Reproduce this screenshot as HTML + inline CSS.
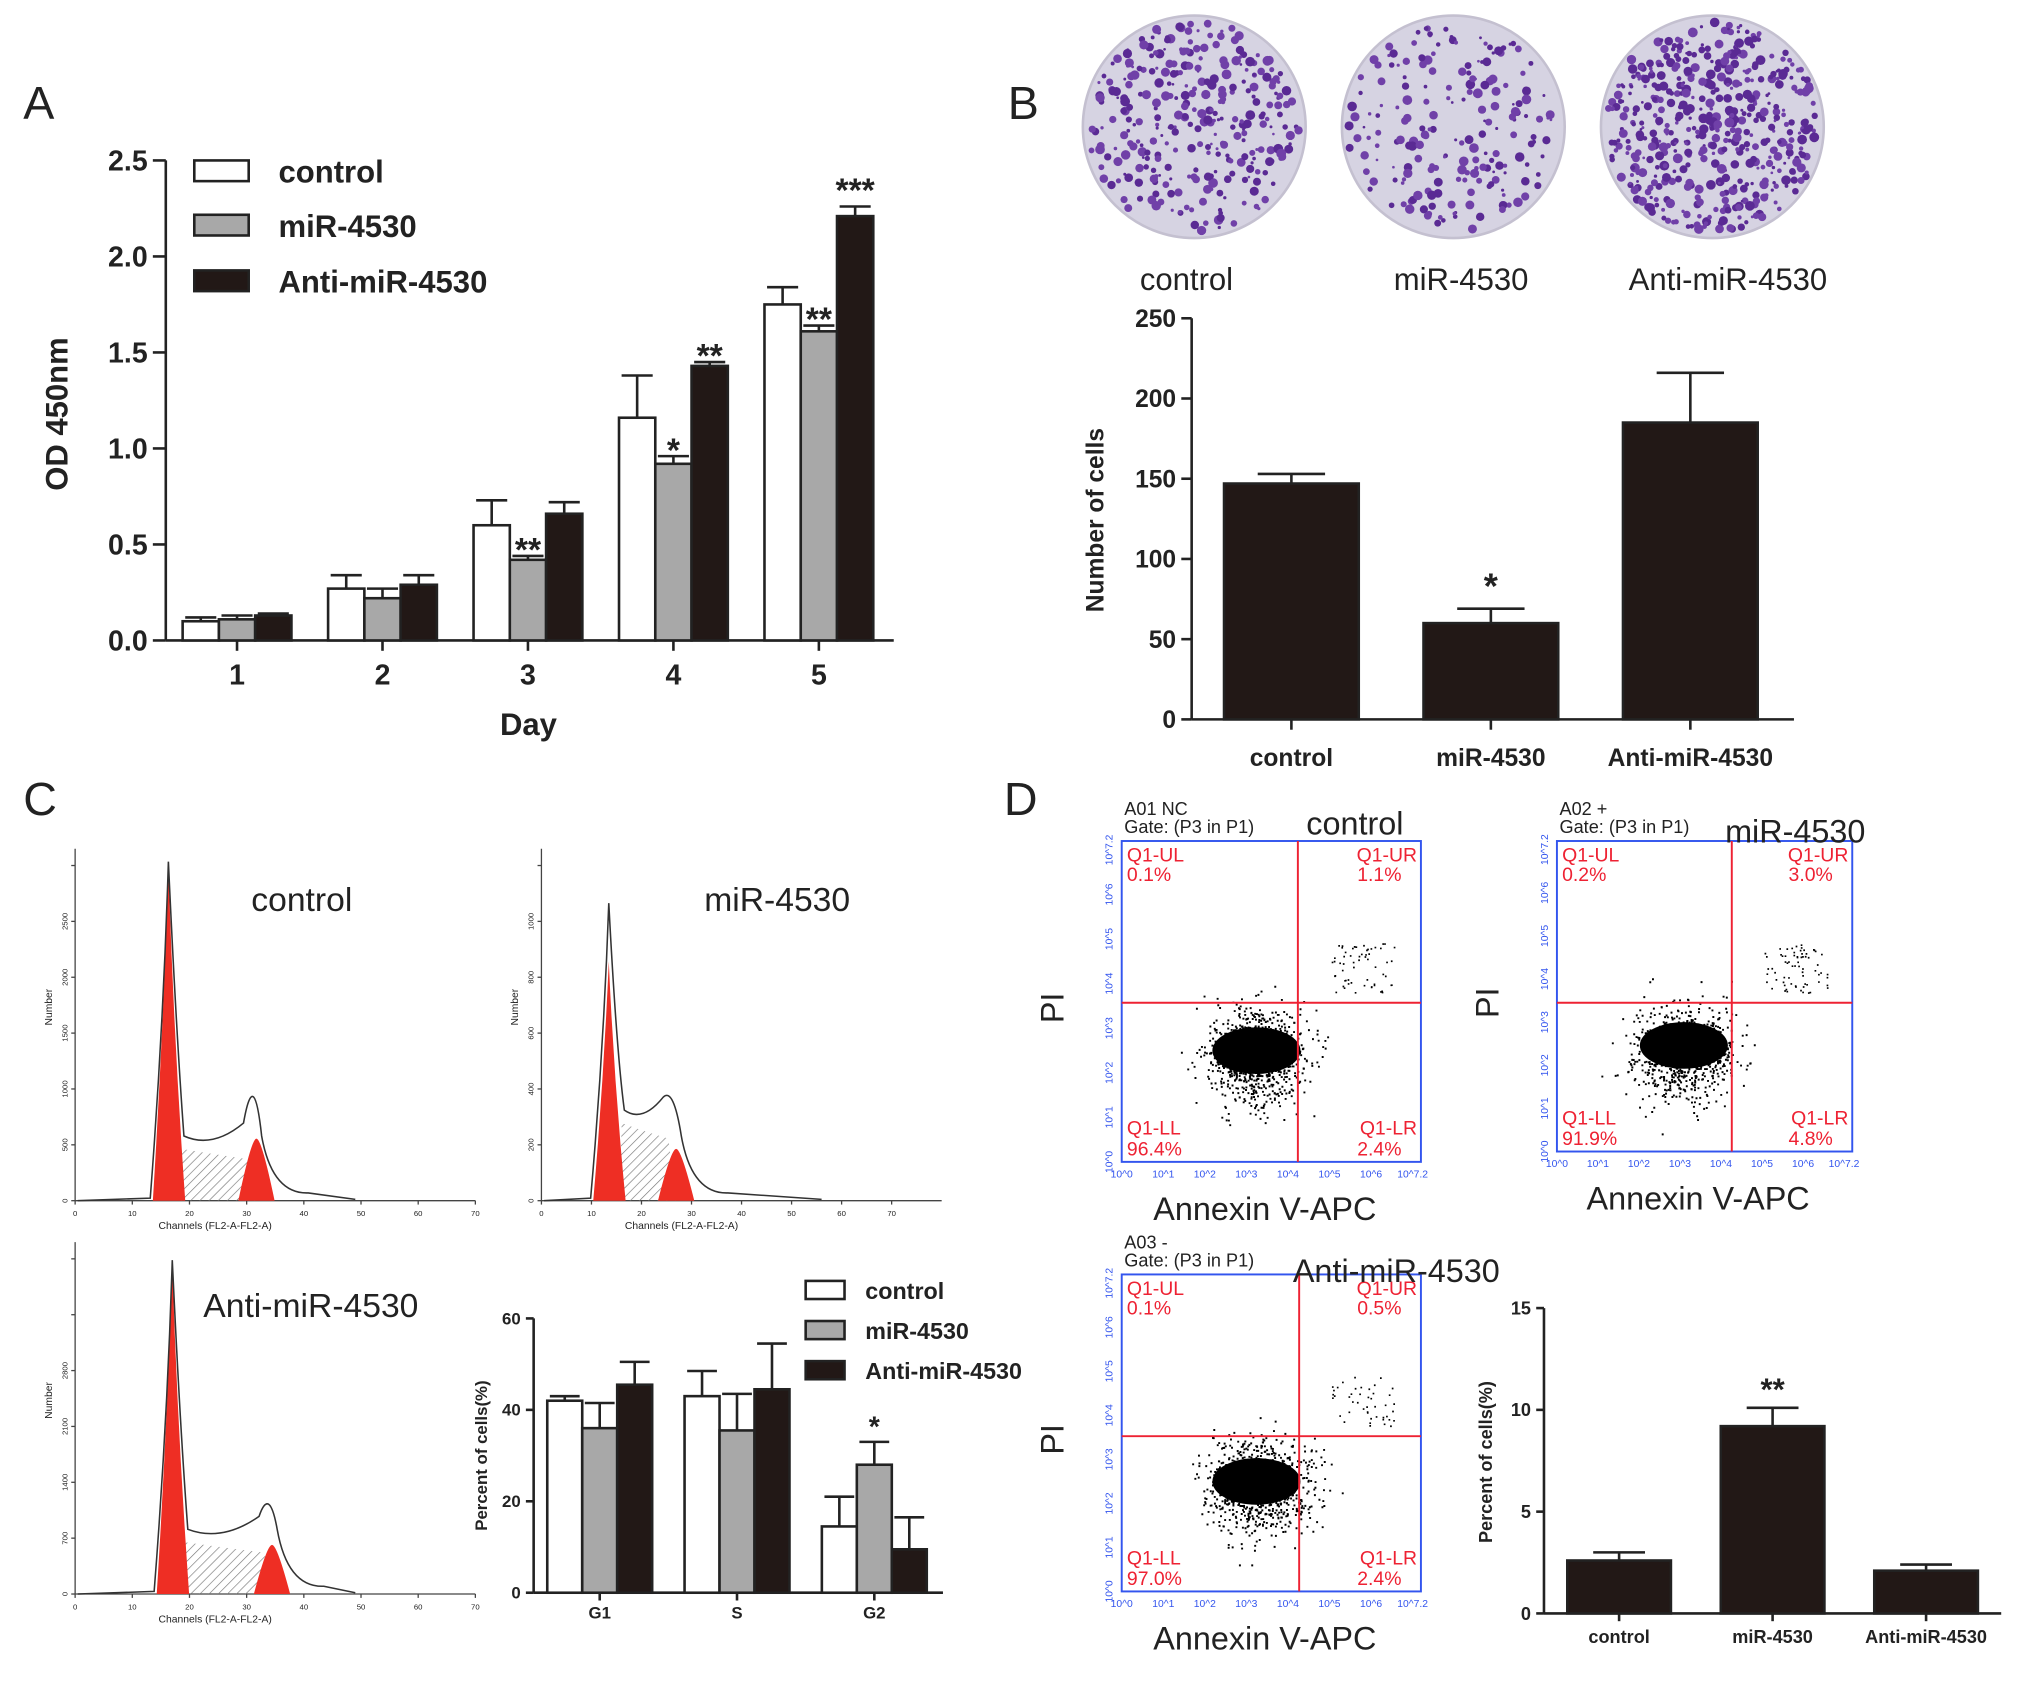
<!DOCTYPE html>
<html><head><meta charset="utf-8"><style>
html,body{margin:0;padding:0;background:#fff}
svg{display:block;font-family:"Liberation Sans",Arial,sans-serif}
</style></head><body>
<svg id="fig" width="2031" height="1682" viewBox="0 0 1568 1300" preserveAspectRatio="none" xmlns="http://www.w3.org/2000/svg">
<defs>
<pattern id="hatch" width="5" height="5" patternUnits="userSpaceOnUse" patternTransform="rotate(45)"><line x1="0" y1="0" x2="0" y2="5" stroke="#777" stroke-width="1"/></pattern>
</defs>
<rect width="1568" height="1300" fill="#fff"/>
<g id="root"></g>
</svg>
<script>
// ---- Panel A data ----
const aDays = ['1','2','3','4','5'];
const aControl = [0.10,0.27,0.60,1.16,1.75];
const aMiR = [0.11,0.22,0.42,0.92,1.61];
const aAnti = [0.13,0.29,0.66,1.43,2.21];
const aControlErr = [0.02,0.07,0.13,0.22,0.09];
const aMiRErr = [0.02,0.05,0.02,0.04,0.03];
const aAntiErr = [0.01,0.05,0.06,0.02,0.05];
const aTicks = ['0.0','0.5','1.0','1.5','2.0','2.5'];
// ---- Panel B data ----
const bCats = ['control','miR-4530','Anti-miR-4530'];
const bVals = [147,60,185];
const bErr = [6,9,31];
const bTicks = ['0','50','100','150','200','250'];
// ---- Panel C bar data ----
const cPhases = ['G1','S','G2'];
const cControl = [42,43,14.5];
const cMiR = [36,35.5,28];
const cAnti = [45.5,44.5,9.5];
const cControlErr = [1,5.5,6.5];
const cMiRErr = [5.5,8,5];
const cAntiErr = [5,10,7];
const cTicks = ['0','20','40','60'];
// ---- Panel D bar data ----
const dCats = ['control','miR-4530','Anti-miR-4530'];
const dVals = [2.6,9.2,2.1];
const dErr = [0.4,0.9,0.3];
const dTicks = ['0','5','10','15'];

const NS='http://www.w3.org/2000/svg';
const root=document.getElementById('root');
function el(tag,attrs,parent,txt){const e=document.createElementNS(NS,tag);for(const k in attrs)e.setAttribute(k,attrs[k]);if(txt!==undefined)e.textContent=txt;(parent||root).appendChild(e);return e;}
function grp(name,parent){const g=el('g',{},parent);


return g;}
function txt(parent,x,y,s,size,opts){opts=opts||{};const t=el('text',{x:x,y:y,'font-size':size,'text-anchor':opts.anchor||'start','font-weight':opts.bold?'bold':'normal',fill:opts.fill||'#222'},parent,s);if(opts.rot)t.setAttribute('transform','rotate(-90 '+x+' '+y+')');


return t;}
let seed=7;function rnd(){seed=(seed*16807)%2147483647;return seed/2147483647;}
function gauss(){return (rnd()+rnd()+rnd()+rnd()-2)/2;}

[['A',18,92],['B',778,92],['C',18,630],['D',775,630]].forEach(p=>txt(root,p[1],p[2],p[0],36,{name:'panel-letter-'+p[0].toLowerCase()}));

function yAxis(g,x,y0,yTop,ticks,size,bold,tickLen){el('line',{x1:x,y1:y0,x2:x,y2:yTop,stroke:'#222','stroke-width':2},g);
 ticks.forEach((t,i)=>{const y=y0-(y0-yTop)*i/(ticks.length-1);el('line',{x1:x-tickLen,y1:y,x2:x,y2:y,stroke:'#222','stroke-width':2},g);txt(g,x-tickLen-4,y+size*0.35,t,size,{anchor:'end',bold:bold,name:'y-tick-label'});});}
function bar(g,x,w,y0,yv,fill,name){const r=el('rect',{x:x,y:yv,width:w,height:y0-yv,fill:fill,stroke:'#222','stroke-width':2},g);


return r;}
function errbar(g,xc,yv,ye,hw){el('line',{x1:xc,y1:yv,x2:xc,y2:ye,stroke:'#222','stroke-width':2},g);el('line',{x1:xc-hw,y1:ye,x2:xc+hw,y2:ye,stroke:'#222','stroke-width':2},g);}

// ===== Panel A =====
(function(){const g=grp('panel-a-chart');const X0=128,Y0=495,YT=124,MAX=2.5;const ys=v=>Y0-(Y0-YT)*v/MAX;
 const xs=i=>183+i*112.3;
 yAxis(g,X0,Y0,YT,aTicks,22,true,10);
 el('line',{x1:X0,y1:Y0,x2:690,y2:Y0,stroke:'#222','stroke-width':2},g);
 const series=[[aControl,aControlErr,'#fff','control'],[aMiR,aMiRErr,'#a8a8a8','mir-4530'],[aAnti,aAntiErr,'#221816','anti-mir-4530']];
 const bw=28;
 aDays.forEach((d,i)=>{const c=xs(i);el('line',{x1:c,y1:Y0,x2:c,y2:Y0+8,stroke:'#222','stroke-width':2},g);txt(g,c,Y0+34,d,22,{anchor:'middle',bold:true,name:'x-tick-label'});
  series.forEach((s,k)=>{const x=c-bw*1.5+k*bw;const v=s[0][i];bar(g,x,bw,Y0,ys(v),s[2],'bar-'+s[3]+'-day'+d);errbar(g,x+bw/2,ys(v),ys(v+s[1][i]),bw/2-2);});});
 const stars=[[2,1,'**'],[3,1,'*'],[3,2,'**'],[4,1,'**'],[4,2,'***']];
 stars.forEach(s=>{const arr=[aControl,aMiR,aAnti][s[1]],err=[aControlErr,aMiRErr,aAntiErr][s[1]];const x=xs(s[0])-bw*1.5+s[1]*bw+bw/2;txt(g,x,ys(arr[s[0]]+err[s[0]])+(s[2].length>2?-4:+4),s[2],26,{anchor:'middle',bold:true,name:'significance-star'});});
 txt(g,52,320,'OD  450nm',24,{rot:true,anchor:'middle',bold:true,name:'y-axis-title'});
 txt(g,408,568,'Day',24,{anchor:'middle',bold:true,name:'x-axis-title'});
 [['control','#fff',124],['miR-4530','#a8a8a8',166],['Anti-miR-4530','#221816',209]].forEach(l=>{const lg=grp('legend-entry',g);el('rect',{x:150,y:l[2],width:42,height:16,fill:l[1],stroke:'#222','stroke-width':2},lg);txt(lg,215,l[2]+17,l[0],24,{bold:true,name:'legend-label'});});
})();

// ===== Panel B plates =====
(function(){const g=grp('panel-b-colony-plates');const plates=[[922,98,330],[1122,98,200],[1322,98,520]];const names=['control','miR-4530','Anti-miR-4530'];
 plates.forEach((p,i)=>{const pg=grp('colony-plate-'+names[i].toLowerCase(),g);el('circle',{cx:p[0],cy:p[1],r:86,fill:'#d6d3e2',stroke:'#c4c0d0','stroke-width':2},pg);
  for(let k=0;k<p[2];k++){const a=rnd()*6.283,r=Math.sqrt(rnd())*82;el('circle',{cx:p[0]+r*Math.cos(a),cy:p[1]+r*Math.sin(a),r:1+rnd()*2.8,fill:rnd()<0.5?'#5a2a94':'#7040a8'},pg);}
  txt(g,[916,1128,1334][i],224,names[i],24,{anchor:'middle',name:'plate-label'});});
})();
// ===== Panel B chart =====
(function(){const g=grp('panel-b-chart');const X0=920,Y0=556,YT=246,MAX=250;const ys=v=>Y0-(Y0-YT)*v/MAX;const xs=i=>997+i*154;
 yAxis(g,X0,Y0,YT,bTicks,19,true,8);el('line',{x1:X0,y1:Y0,x2:1385,y2:Y0,stroke:'#222','stroke-width':2},g);
 bCats.forEach((c,i)=>{const x=xs(i);bar(g,x-52,104,Y0,ys(bVals[i]),'#221816','bar-'+c.toLowerCase());errbar(g,x,ys(bVals[i]),ys(bVals[i]+bErr[i]),26);
  el('line',{x1:x,y1:Y0,x2:x,y2:Y0+8,stroke:'#222','stroke-width':2},g);txt(g,x,Y0+36,c,19,{anchor:'middle',bold:true,name:'x-tick-label'});});
 txt(g,xs(1),ys(bVals[1]+bErr[1])-8,'*',28,{anchor:'middle',bold:true,name:'significance-star'});
 txt(g,852,402,'Number of cells',19,{rot:true,anchor:'middle',bold:true,name:'y-axis-title'});
})();

// ===== Panel C histograms =====
function histo(name,x0,y0,w,h,title,tx,ty,g1x,g1h,g2x,g2h,xmax,yl,outH,sH){const g=grp(name);
 el('line',{x1:x0,y1:y0-h,x2:x0,y2:y0,stroke:'#444','stroke-width':1},g);el('line',{x1:x0,y1:y0,x2:x0+w,y2:y0,stroke:'#444','stroke-width':1},g);
 for(let i=0;i<=7;i++){const x=x0+w*i/(xmax/10);if(x>x0+w+1)break;el('line',{x1:x,y1:y0,x2:x,y2:y0+3,stroke:'#444'},g);txt(g,x,y0+12,String(i*10),6,{anchor:'middle',name:'x-tick-label'});}
 for(let i=0;i<=6;i++){const y=y0-h*i/6.3;el('line',{x1:x0-3,y1:y,x2:x0,y2:y,stroke:'#444'},g);txt(g,x0-6,y,yl[i]||'',6,{anchor:'middle',rot:true,name:'y-tick-label'});}
 txt(g,x0+w*0.35,y0+22,'Channels (FL2-A-FL2-A)',8,{anchor:'middle',name:'x-axis-title'});
 txt(g,x0-18,y0-h*0.55,'Number',8,{anchor:'middle',rot:true,name:'y-axis-title'});
 el('path',{d:`M${g1x+8},${y0} L${g1x+10},${y0-sH} Q${(g1x+g2x)/2},${y0-sH*0.9} ${g2x-6},${y0-sH*0.8} L${g2x},${y0} Z`,fill:'url(#hatch)'},g);
 el('path',{d:`M${g1x-12},${y0} Q${g1x-4},${y0-g1h*0.5} ${g1x},${y0-g1h} Q${g1x+4},${y0-g1h*0.5} ${g1x+13},${y0} Z`,fill:'#ee2e24'},g);
 el('path',{d:`M${g2x-14},${y0} Q${g2x-4},${y0-g2h} ${g2x},${y0-g2h} Q${g2x+4},${y0-g2h} ${g2x+14},${y0} Z`,fill:'#ee2e24'},g);
 el('path',{d:`M${x0+2},${y0} L${g1x-14},${y0-2} Q${g1x-4},${y0-outH*0.5} ${g1x},${y0-outH} Q${g1x+6},${y0-outH*0.5} ${g1x+12},${y0-sH-10} Q${(g1x+g2x)/2},${y0-sH} ${g2x-10},${y0-sH-20} Q${g2x-2},${y0-g2h*2.2} ${g2x+4},${y0-50} Q${g2x+12},${y0-5} ${g2x+40},${y0-6} L${x0+w*0.7},${y0-1}`,fill:'none',stroke:'#333','stroke-width':1.2},g);
 txt(g,tx,ty,title,26,{anchor:'middle',name:'histogram-title'});
}
histo('histogram-control',58,928,309,272,'control',233,704,130,258,198,48,70,['0','500','1000','1500','2000','2500'],262,40);
histo('histogram-mir-4530',418,928,309,272,'miR-4530',600,704,470,185,522,40,80,['0','200','400','600','800','1000'],230,60);
histo('histogram-anti-mir-4530',58,1232,309,272,'Anti-miR-4530',240,1018,133,255,210,38,70,['0','700','1400','2100','2800'],258,40);

// ===== Panel C bar chart =====
(function(){const g=grp('panel-c-chart');const X0=412,Y0=1231,YT=1019,MAX=60;const ys=v=>Y0-(Y0-YT)*v/MAX;const xs=i=>463+i*106;
 yAxis(g,X0,Y0,YT,cTicks,13,true,6);el('line',{x1:X0,y1:Y0,x2:728,y2:Y0,stroke:'#222','stroke-width':2},g);
 const series=[[cControl,cControlErr,'#fff','control'],[cMiR,cMiRErr,'#a8a8a8','mir-4530'],[cAnti,cAntiErr,'#221816','anti-mir-4530']];const bw=27;
 cPhases.forEach((p,i)=>{const c=xs(i);el('line',{x1:c,y1:Y0,x2:c,y2:Y0+6,stroke:'#222','stroke-width':2},g);txt(g,c,Y0+20,p,13,{anchor:'middle',bold:true,name:'x-tick-label'});
  series.forEach((s,k)=>{const x=c-bw*1.5+k*bw;const v=s[0][i];bar(g,x,bw,Y0,ys(v),s[2],'bar-'+s[3]+'-'+p.toLowerCase());errbar(g,x+bw/2,ys(v),ys(v+s[1][i]),bw/2-2);});});
 txt(g,xs(2),ys(cMiR[2]+cMiRErr[2])-4,'*',22,{anchor:'middle',bold:true,name:'significance-star'});
 txt(g,376,1125,'Percent of cells(%)',13,{rot:true,anchor:'middle',bold:true,name:'y-axis-title'});
 [['control','#fff',990],['miR-4530','#a8a8a8',1021],['Anti-miR-4530','#221816',1052]].forEach(l=>{const lg=grp('legend-entry',g);el('rect',{x:622,y:l[2],width:30,height:14,fill:l[1],stroke:'#222','stroke-width':2},lg);txt(lg,668,l[2]+14,l[0],18,{bold:true,name:'legend-label'});});
})();

// ===== Panel D scatter plots =====
function scatter(name,x0,yT,w,h,qx,qy,header,title,tx,ty,q,cx,cy,n,ur){const g=grp(name);
 el('rect',{x:x0,y:yT,width:w,height:h,fill:'#fff',stroke:'#3355ee','stroke-width':1.5},g);
 for(let i=0;i<=7;i++){const y=yT+h-h*i/7.2;txt(g,x0-7,y,i==7?'10^7.2':'10^'+i,8,{anchor:'middle',rot:true,fill:'#3355ee',name:'y-tick-label'});
  const x=x0+w*i/7.2;txt(g,x,yT+h+12,i==7?'10^7.2':'10^'+i,8,{anchor:'middle',fill:'#3355ee',name:'x-tick-label'});}
 const dg=grp('scatter-points',g);let d='';
 for(let k=0;k<n;k++){const wide=rnd()<0.25;const x=cx+gauss()*(wide?70:38),y=cy+gauss()*(wide?60:22)+(wide&&rnd()<0.5?Math.abs(gauss())*40:0);if(x>x0+2&&x<x0+w-2&&y>yT+2&&y<yT+h-2)d+=`M${x.toFixed(1)} ${y.toFixed(1)}h1.5v1.5h-1.5z`;}
 for(let k=0;k<ur;k++){const x=qx+25+rnd()*50,y=qy-8-rnd()*38;d+=`M${x.toFixed(1)} ${y.toFixed(1)}h1.3v1.3h-1.3z`;}
 el('path',{d:d,fill:'#000'},dg);
 el('ellipse',{cx:cx,cy:cy,rx:34,ry:18,fill:'#000'},dg);
 el('line',{x1:qx,y1:yT,x2:qx,y2:yT+h,stroke:'#ee2233','stroke-width':1.5},g);el('line',{x1:x0,y1:qy,x2:x0+w,y2:qy,stroke:'#ee2233','stroke-width':1.5},g);
 txt(g,x0+4,yT+16,'Q1-UL',15,{fill:'#ee2233',name:'quadrant-label'});txt(g,x0+4,yT+31,q[0],15,{fill:'#ee2233',name:'quadrant-value'});
 txt(g,x0+w-3,yT+16,'Q1-UR',15,{anchor:'end',fill:'#ee2233',name:'quadrant-label'});txt(g,x0+w-15,yT+31,q[1],15,{anchor:'end',fill:'#ee2233',name:'quadrant-value'});
 txt(g,x0+4,yT+h-21,'Q1-LL',15,{fill:'#ee2233',name:'quadrant-label'});txt(g,x0+4,yT+h-5,q[2],15,{fill:'#ee2233',name:'quadrant-value'});
 txt(g,x0+w-3,yT+h-21,'Q1-LR',15,{anchor:'end',fill:'#ee2233',name:'quadrant-label'});txt(g,x0+w-15,yT+h-5,q[3],15,{anchor:'end',fill:'#ee2233',name:'quadrant-value'});
 txt(g,x0+2,yT-6,'Gate: (P3 in P1)',14,{name:'gate-label'});txt(g,x0+2,yT-20,header,14,{name:'sample-label'});
 txt(g,tx,ty,title,25,{anchor:'middle',name:'scatter-title'});
 txt(g,x0+w/2-5,yT+h+45,'Annexin V-APC',25,{anchor:'middle',name:'x-axis-title'});
 txt(g,x0-45,yT+h/2+5,'PI',25,{rot:true,anchor:'middle',name:'y-axis-title'});
}
scatter('scatter-control',866,650,231,248,1002,775,'A01 NC','control',1046,645,['0.1%','1.1%','96.4%','2.4%'],970,812,3500,60);
scatter('scatter-mir-4530',1202,650,228,240,1337,775,'A02 +','miR-4530',1386,651,['0.2%','3.0%','91.9%','4.8%'],1300,808,3000,70);
scatter('scatter-anti-mir-4530',866,985,231,245,1003,1110,'A03 -','Anti-miR-4530',1078,991,['0.1%','0.5%','97.0%','2.4%'],970,1145,3500,45);

// ===== Panel D bar chart =====
(function(){const g=grp('panel-d-chart');const X0=1192,Y0=1247,YT=1011,MAX=15;const ys=v=>Y0-(Y0-YT)*v/MAX;const xs=i=>1250+i*118.5;
 yAxis(g,X0,Y0,YT,dTicks,14,true,6);el('line',{x1:X0,y1:Y0,x2:1545,y2:Y0,stroke:'#222','stroke-width':2},g);
 dCats.forEach((c,i)=>{const x=xs(i);bar(g,x-40,80,Y0,ys(dVals[i]),'#221816','bar-'+c.toLowerCase());errbar(g,x,ys(dVals[i]),ys(dVals[i]+dErr[i]),20);
  el('line',{x1:x,y1:Y0,x2:x,y2:Y0+6,stroke:'#222','stroke-width':2},g);txt(g,x,Y0+23,c,14,{anchor:'middle',bold:true,name:'x-tick-label'});});
 txt(g,xs(1),ys(dVals[1]+dErr[1])-6,'**',24,{anchor:'middle',bold:true,name:'significance-star'});
 txt(g,1152,1130,'Percent of cells(%)',14,{rot:true,anchor:'middle',bold:true,name:'y-axis-title'});
})();
</script>
</body></html>
